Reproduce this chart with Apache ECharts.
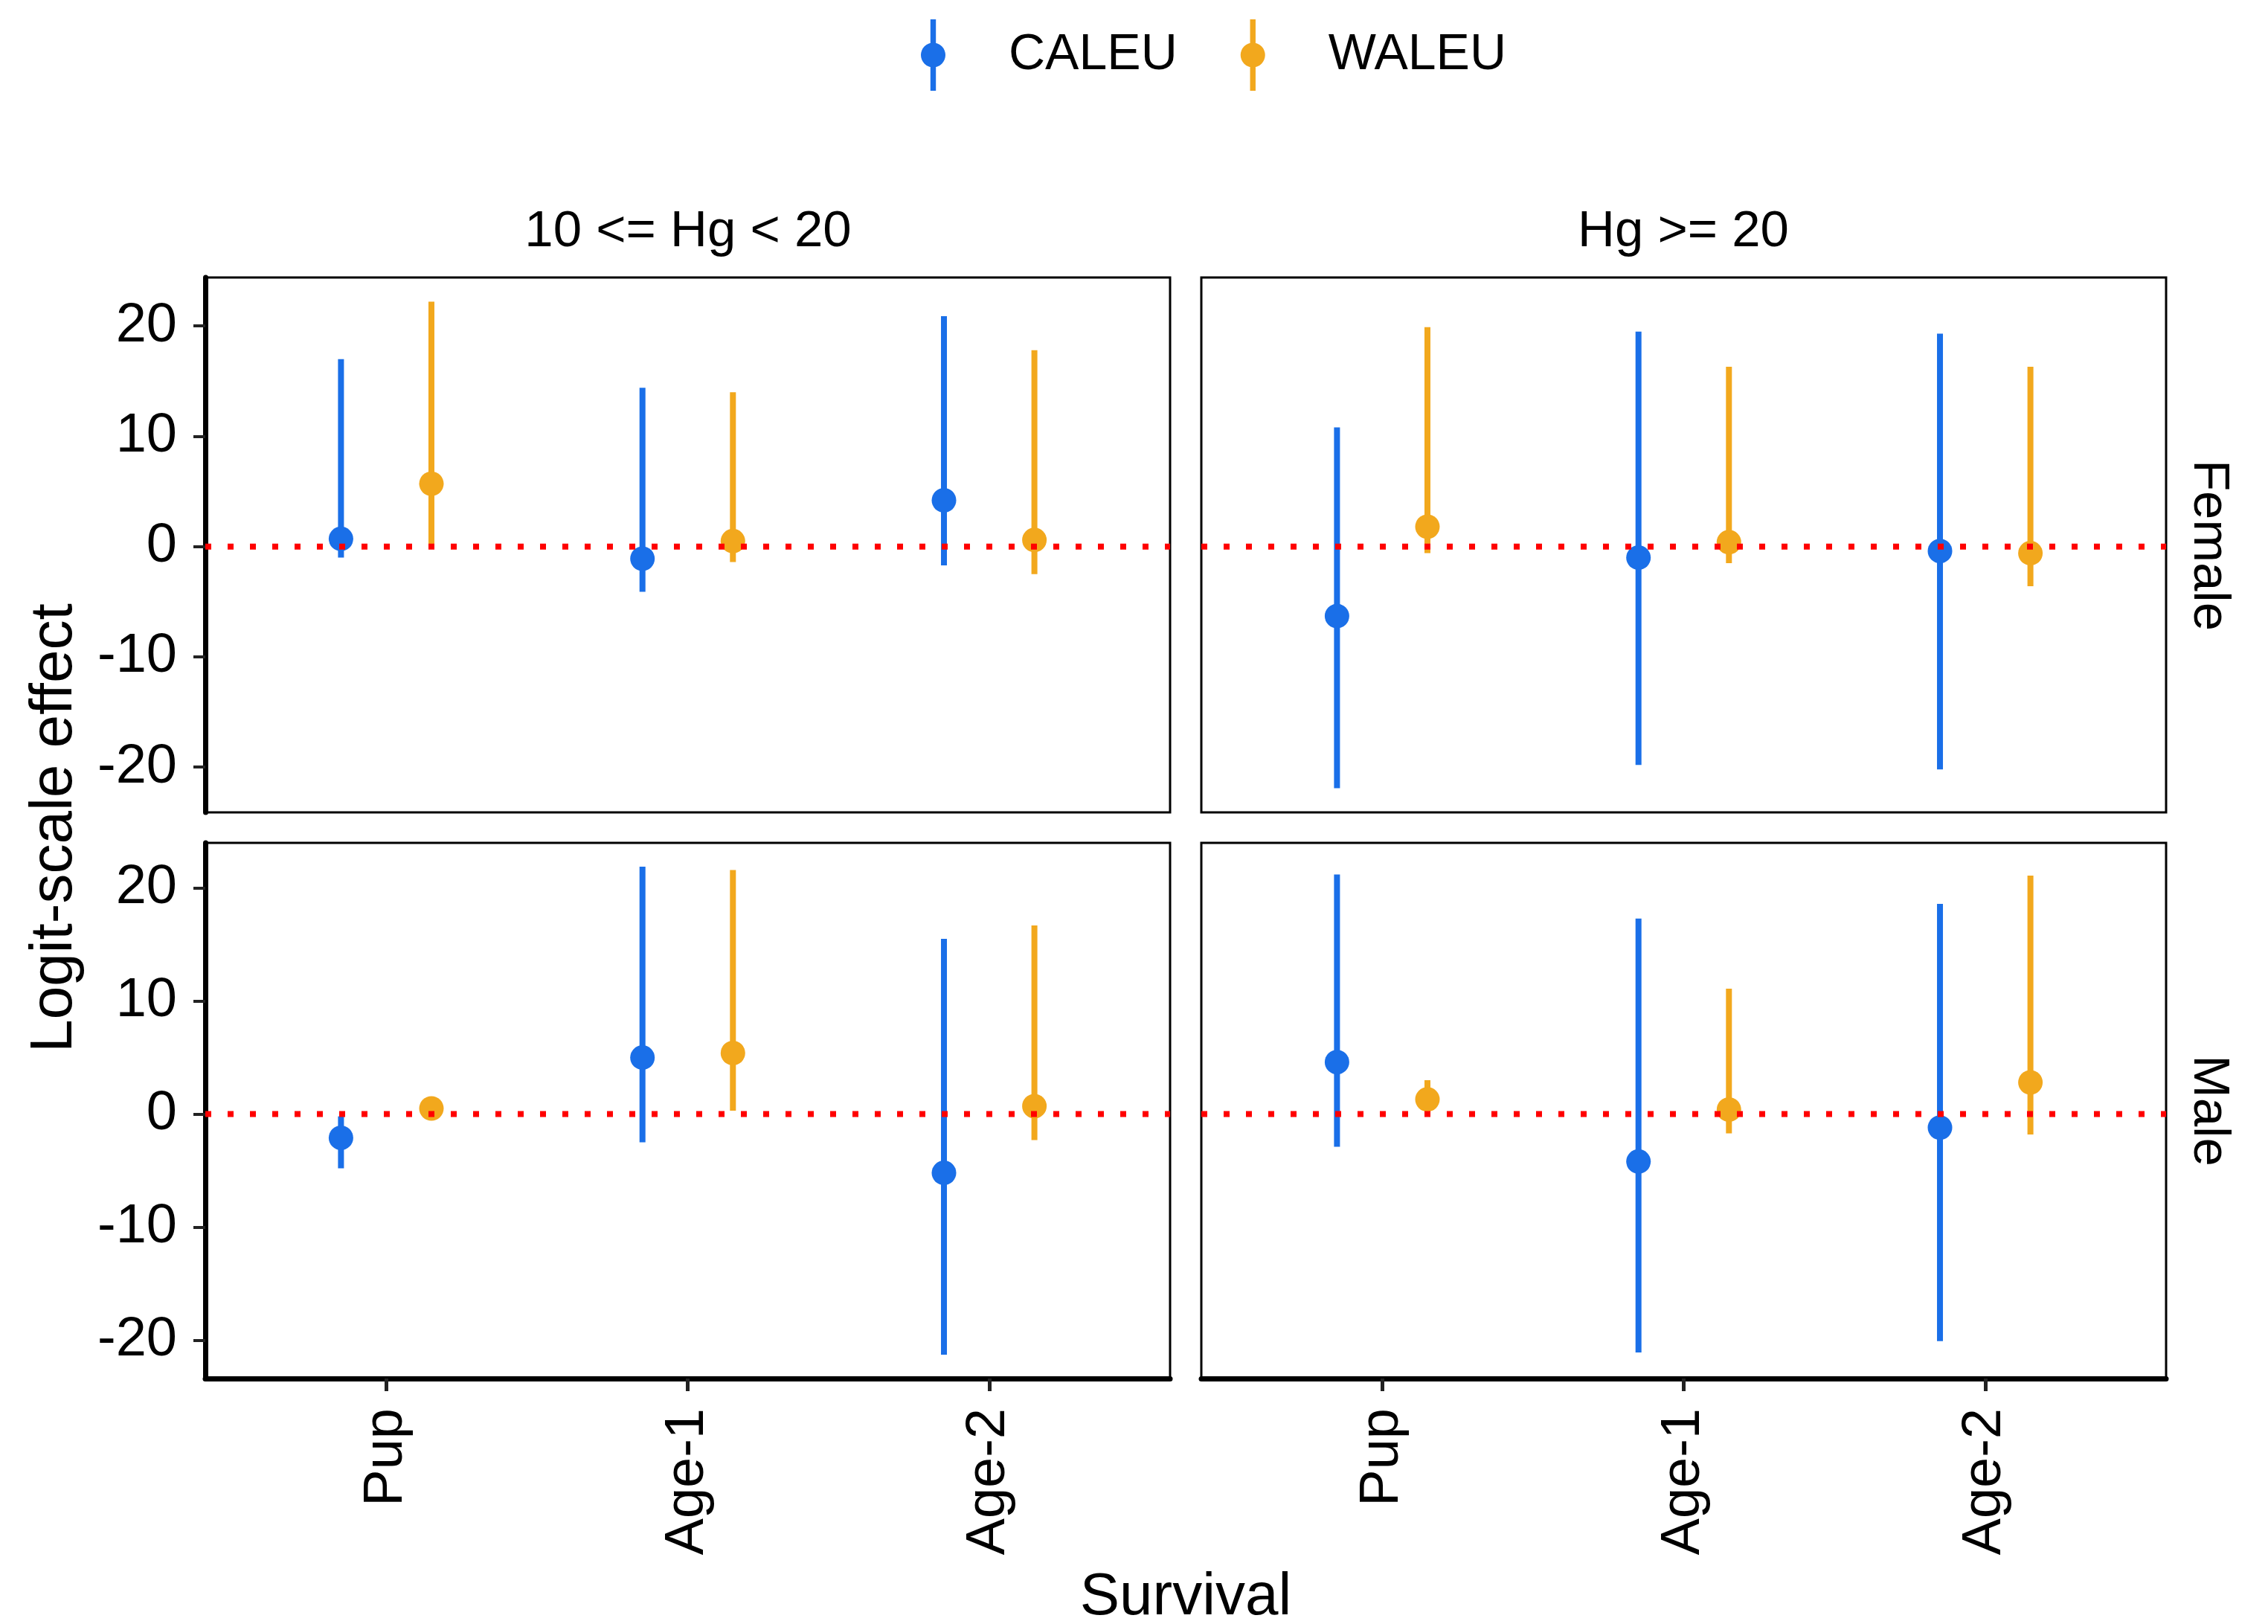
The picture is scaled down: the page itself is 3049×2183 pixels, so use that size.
<!DOCTYPE html>
<html>
<head>
<meta charset="utf-8">
<script src="https://cdn.jsdelivr.net/npm/echarts@6/dist/echarts.min.js"></script>
<style>
  html, body { margin: 0; padding: 0; background: #fff; }
  #chart { width: 3049px; height: 2183px; }
</style>
</head>
<body>
<div id="chart"></div>
<script>
// categories and facet labels
const categories = ['Pup', 'Age-1', 'Age-2'];
const colLabels = ['10 <= Hg < 20', 'Hg >= 20'];
const rowLabels = ['Female', 'Male'];
const yTicks = [-20, -10, 0, 10, 20];

// Female, 10 <= Hg < 20
const caleuF1Est = [0.7, -1.1, 4.2];
const caleuF1Low = [-1.0, -4.1, -1.7];
const caleuF1High = [17.0, 14.4, 20.9];
const waleuF1Est = [5.7, 0.5, 0.6];
const waleuF1Low = [0.0, -1.4, -2.5];
const waleuF1High = [22.2, 14.0, 17.8];

// Female, Hg >= 20
const caleuF2Est = [-6.3, -1.0, -0.4];
const caleuF2Low = [-21.9, -19.8, -20.2];
const caleuF2High = [10.8, 19.5, 19.3];
const waleuF2Est = [1.8, 0.4, -0.6];
const waleuF2Low = [-0.6, -1.5, -3.6];
const waleuF2High = [19.9, 16.3, 16.3];

// Male, 10 <= Hg < 20
const caleuM1Est = [-2.1, 5.0, -5.2];
const caleuM1Low = [-4.8, -2.5, -21.3];
const caleuM1High = [-0.2, 21.9, 15.5];
const waleuM1Est = [0.5, 5.4, 0.7];
const waleuM1Low = [0.1, 0.3, -2.3];
const waleuM1High = [0.9, 21.6, 16.7];

// Male, Hg >= 20
const caleuM2Est = [4.6, -4.2, -1.2];
const caleuM2Low = [-2.9, -21.1, -20.1];
const caleuM2High = [21.2, 17.3, 18.6];
const waleuM2Est = [1.3, 0.4, 2.8];
const waleuM2Low = [0.2, -1.7, -1.8];
const waleuM2High = [3.0, 11.1, 21.1];

const BLUE = '#1a6fe8';
const ORANGE = '#f2a81d';
const FONT = '"Liberation Sans", Arial, sans-serif';

// panels: [row, col]
const panels = [
  { row: 0, col: 0, caleu: [caleuF1Est, caleuF1Low, caleuF1High], waleu: [waleuF1Est, waleuF1Low, waleuF1High] },
  { row: 0, col: 1, caleu: [caleuF2Est, caleuF2Low, caleuF2High], waleu: [waleuF2Est, waleuF2Low, waleuF2High] },
  { row: 1, col: 0, caleu: [caleuM1Est, caleuM1Low, caleuM1High], waleu: [waleuM1Est, waleuM1Low, waleuM1High] },
  { row: 1, col: 1, caleu: [caleuM2Est, caleuM2Low, caleuM2High], waleu: [waleuM2Est, waleuM2Low, waleuM2High] }
];

// free y scales per row
const yRange = [[-24.1, 24.4], [-23.4, 24.0]];
const gridLeft = [276, 1615];
const gridTop = [373, 1133];
const gridW = 1297;
const gridH = [719, 720];
const dodge = 0.15;

function toRows(arrs, offset) {
  return categories.map((c, i) => [i + 1 + offset, arrs[0][i], arrs[1][i], arrs[2][i]]);
}

function makeRender(color) {
  return function (params, api) {
    const x = api.value(0);
    const pt = api.coord([x, api.value(1)]);
    const lo = api.coord([x, api.value(2)]);
    const hi = api.coord([x, api.value(3)]);
    return {
      type: 'group',
      children: [
        { type: 'line', shape: { x1: lo[0], y1: lo[1], x2: hi[0], y2: hi[1] },
          style: { stroke: color, lineWidth: 8 } },
        { type: 'circle', shape: { cx: pt[0], cy: pt[1], r: 16.5 },
          style: { fill: color } }
      ]
    };
  };
}

const grids = [], xAxes = [], yAxes = [], series = [];

panels.forEach((p, i) => {
  grids.push({
    left: gridLeft[p.col], top: gridTop[p.row], width: gridW, height: gridH[p.row],
    show: true, borderColor: '#000', borderWidth: 3, backgroundColor: '#fff'
  });
  const bottom = p.row === 1;
  const left = p.col === 0;
  xAxes.push({
    type: 'value', gridIndex: i, min: 0.4, max: 3.6,
    splitLine: { show: false },
    axisLine: { show: bottom, onZero: false, lineStyle: { color: '#000', width: 7 } },
    axisTick: { show: bottom, customValues: [1, 2, 3], length: 17, lineStyle: { color: '#222', width: 5 } },
    axisLabel: {
      show: bottom, customValues: [1, 2, 3], rotate: 90, margin: 40,
      formatter: v => categories[Math.round(v) - 1],
      fontSize: 74, color: '#000', fontFamily: FONT
    }
  });
  yAxes.push({
    type: 'value', gridIndex: i, min: yRange[p.row][0], max: yRange[p.row][1],
    splitLine: { show: false },
    axisLine: { show: left, onZero: false, lineStyle: { color: '#000', width: 7 } },
    axisTick: { show: left, customValues: yTicks, length: 16, lineStyle: { color: '#222', width: 4 } },
    axisLabel: {
      show: left, customValues: yTicks, margin: 38,
      fontSize: 74, color: '#000', fontFamily: FONT
    }
  });
  series.push({
    name: 'CALEU', type: 'custom', xAxisIndex: i, yAxisIndex: i,
    itemStyle: { color: BLUE }, renderItem: makeRender(BLUE),
    data: toRows(p.caleu, -dodge), z: 2
  });
  series.push({
    name: 'WALEU', type: 'custom', xAxisIndex: i, yAxisIndex: i,
    itemStyle: { color: ORANGE }, renderItem: makeRender(ORANGE),
    data: toRows(p.waleu, dodge), z: 2
  });
  // dotted zero reference line
  series.push({
    name: 'zero', type: 'line', xAxisIndex: i, yAxisIndex: i,
    data: [[0.4, 0], [3.6, 0]], symbol: 'none', silent: true, z: 5,
    lineStyle: { color: '#ff0000', width: 8, type: [8, 22], cap: 'butt' }
  });
});

const legendIcon = 'path://M12.8,0h7.4v96h-7.4z M0,48a16.5,16.5 0 1,1 33,0a16.5,16.5 0 1,1 -33,0z';

const textStyleBase = { fill: '#000', fontFamily: FONT };
const graphics = [
  { type: 'text', x: 925, y: 312, style: Object.assign({ text: colLabels[0], fontSize: 69, textAlign: 'center', textVerticalAlign: 'middle' }, textStyleBase) },
  { type: 'text', x: 2263, y: 312, style: Object.assign({ text: colLabels[1], fontSize: 69, textAlign: 'center', textVerticalAlign: 'middle' }, textStyleBase) },
  { type: 'text', x: 2969, y: 733, rotation: -Math.PI / 2, style: Object.assign({ text: rowLabels[0], fontSize: 69, textAlign: 'center', textVerticalAlign: 'middle' }, textStyleBase) },
  { type: 'text', x: 2969, y: 1493, rotation: -Math.PI / 2, style: Object.assign({ text: rowLabels[1], fontSize: 69, textAlign: 'center', textVerticalAlign: 'middle' }, textStyleBase) },
  { type: 'text', x: 74, y: 1113, rotation: Math.PI / 2, style: Object.assign({ text: 'Logit-scale effect', fontSize: 80, textAlign: 'center', textVerticalAlign: 'middle' }, textStyleBase) },
  { type: 'text', x: 1594, y: 2148, style: Object.assign({ text: 'Survival', fontSize: 80, textAlign: 'center', textVerticalAlign: 'middle' }, textStyleBase) }
];

const chart = echarts.init(document.getElementById('chart'), null, { renderer: 'canvas' });
chart.setOption({
  animation: false,
  backgroundColor: '#fff',
  color: [BLUE, ORANGE],
  legend: {
    data: ['CALEU', 'WALEU'],
    left: 1233, top: 21,
    icon: legendIcon,
    itemWidth: 33, itemHeight: 96, itemGap: 85,
    textStyle: { fontSize: 68, color: '#000', fontFamily: FONT, padding: [0, 0, 0, 80] }
  },
  grid: grids,
  xAxis: xAxes,
  yAxis: yAxes,
  series: series,
  graphic: graphics
});
</script>
</body>
</html>
